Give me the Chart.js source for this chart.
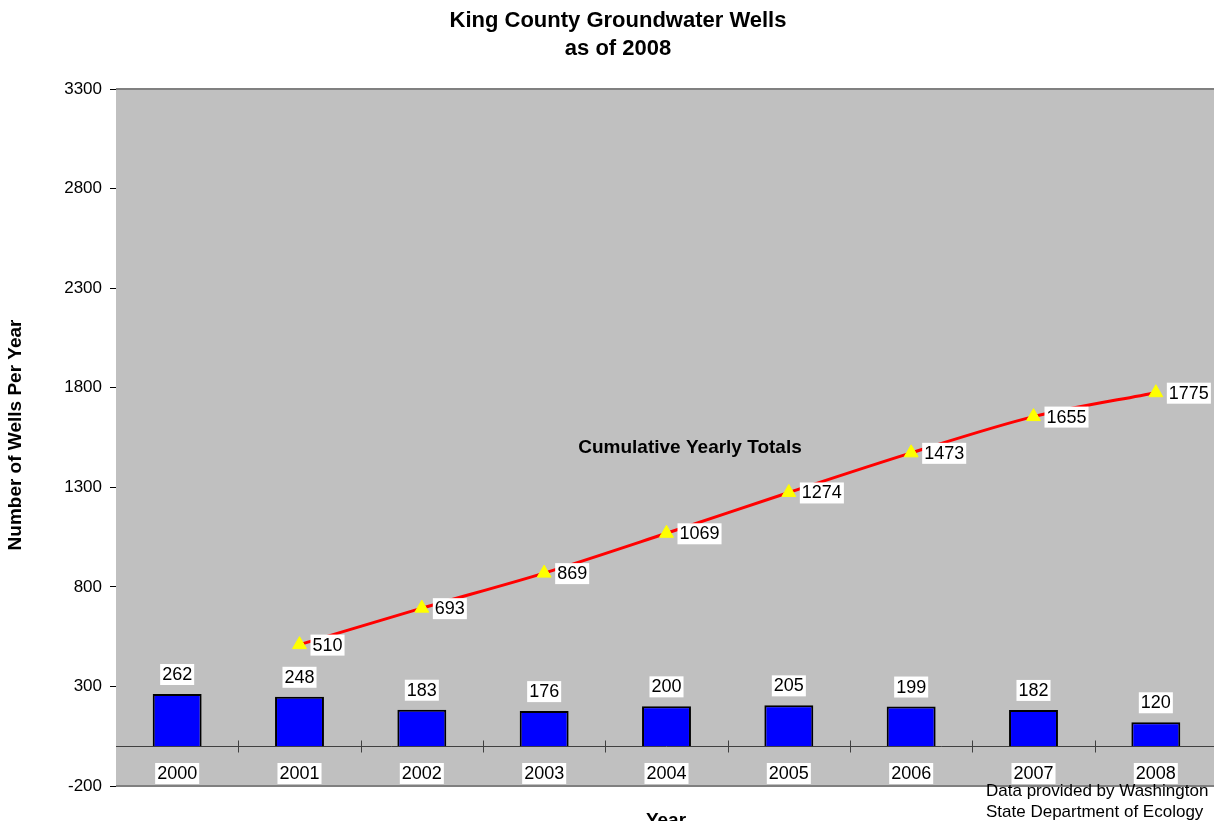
<!DOCTYPE html>
<html>
<head>
<meta charset="utf-8">
<script src="https://cdn.jsdelivr.net/npm/chart.js@4.4.1/dist/chart.umd.min.js"></script>
<style>
  html, body { margin: 0; padding: 0; background: #fff; overflow: hidden; }
  #wrap { position: relative; width: 1226px; height: 821px; }
</style>
</head>
<body>
<div id="wrap"><canvas id="wells" width="1226" height="821"></canvas></div>
<script>
// data
const years = ['2000', '2001', '2002', '2003', '2004', '2005', '2006', '2007', '2008'];
const wellsPerYear = [262, 248, 183, 176, 200, 205, 199, 182, 120];
const cumulative = [null, 510, 693, 869, 1069, 1274, 1473, 1655, 1775];
const yTicks = [-200, 300, 800, 1300, 1800, 2300, 2800, 3300];

const FONT = 'Arial, "Liberation Sans", sans-serif';

function labelBox(ctx, text, cx, cy, align) {
  ctx.font = '18px ' + FONT;
  const w = ctx.measureText(text).width;
  const left = align === 'left' ? cx : cx - w / 2;
  ctx.fillStyle = '#fff';
  ctx.fillRect(left - 2, cy - 10, w + 4, 21);
  ctx.fillStyle = '#000';
  ctx.textAlign = 'left';
  ctx.textBaseline = 'middle';
  ctx.fillText(text, left, cy + 1);
}

// gray plot background, border, zero line with category ticks
const plotFrame = {
  id: 'plotFrame',
  beforeDatasetsDraw(chart) {
    const { ctx, chartArea: a, scales: { x, y } } = chart;
    ctx.save();
    ctx.fillStyle = '#c0c0c0';
    ctx.fillRect(a.left, a.top, a.right - a.left, a.bottom - a.top);
    ctx.strokeStyle = '#808080';
    ctx.lineWidth = 2;
    ctx.beginPath();
    ctx.moveTo(a.left, a.top); ctx.lineTo(a.right, a.top);
    ctx.moveTo(a.left, a.bottom); ctx.lineTo(a.right, a.bottom);
    ctx.stroke();

    const zy = Math.round(y.getPixelForValue(0)) + 0.5;
    ctx.strokeStyle = '#404040';
    ctx.lineWidth = 1;
    ctx.beginPath();
    ctx.moveTo(a.left, zy); ctx.lineTo(a.right, zy);
    for (let i = 0; i < years.length - 1; i++) {
      const tx = Math.round((x.getPixelForValue(i) + x.getPixelForValue(i + 1)) / 2) + 0.5;
      ctx.moveTo(tx, zy - 6); ctx.lineTo(tx, zy + 6);
    }
    ctx.stroke();
    ctx.restore();
  },
  afterDatasetsDraw(chart) {
    const { ctx, chartArea: a, scales: { x, y } } = chart;
    ctx.save();
    // category labels inside the plot, under the zero line
    years.forEach((yr, i) => labelBox(ctx, yr, x.getPixelForValue(i), a.bottom - 13, 'center'));
    // bar value labels
    chart.getDatasetMeta(1).data.forEach((bar, i) => {
      labelBox(ctx, String(wellsPerYear[i]), bar.x, bar.y - 20, 'center');
    });
    // cumulative labels to the right of the markers
    chart.getDatasetMeta(0).data.forEach((pt, i) => {
      if (cumulative[i] == null) return;
      labelBox(ctx, String(cumulative[i]), pt.x + 13, pt.y, 'left');
    });

    ctx.fillStyle = '#000';
    ctx.textAlign = 'center';
    ctx.textBaseline = 'middle';
    ctx.font = 'bold 19px ' + FONT;
    ctx.fillText('Cumulative Yearly Totals', 690, 448);

    ctx.font = 'bold 22px ' + FONT;
    ctx.fillText('King County Groundwater Wells', 618, 21);
    ctx.fillText('as of 2008', 618, 49);

    ctx.font = 'bold 19px ' + FONT;
    ctx.fillText('Year', 666, 821);
    ctx.save();
    ctx.translate(16, 435);
    ctx.rotate(-Math.PI / 2);
    ctx.fillText('Number of Wells Per Year', 0, 0);
    ctx.restore();

    ctx.font = '17px ' + FONT;
    ctx.textAlign = 'left';
    ctx.fillText('Data provided by Washington', 986, 791);
    ctx.fillText('State Department of Ecology', 986, 812);
    ctx.restore();
  }
};

new Chart(document.getElementById('wells'), {
  data: {
    labels: years,
    datasets: [
      {
        type: 'line',
        label: 'Cumulative Yearly Totals',
        data: cumulative,
        order: 0,
        borderColor: '#ff0000',
        borderWidth: 3,
        tension: 0.3,
        pointStyle: 'triangle',
        pointRadius: 8,
        pointBackgroundColor: '#ffff00',
        pointBorderColor: '#ffff00',
        pointBorderWidth: 1
      },
      {
        type: 'bar',
        label: 'Wells Per Year',
        data: wellsPerYear,
        order: 1,
        backgroundColor: '#0000ff',
        borderColor: '#000',
        borderWidth: 2,
        categoryPercentage: 1,
        barPercentage: 0.4
      }
    ]
  },
  options: {
    responsive: false,
    animation: false,
    devicePixelRatio: 1,
    layout: { padding: { top: 89, bottom: 35, left: 0, right: 0 } },
    plugins: { legend: { display: false }, tooltip: { enabled: false } },
    scales: {
      x: { display: false },
      y: {
        min: -200,
        max: 3300,
        afterBuildTicks: (s) => { s.ticks = yTicks.map(v => ({ value: v })); },
        afterFit: (s) => { s.width = 116; },
        grid: { drawOnChartArea: false, tickLength: 6, color: '#000' },
        border: { color: '#000', width: 1 },
        ticks: {
          color: '#000',
          font: { family: FONT, size: 17 },
          padding: 8,
          callback: (v) => String(v)
        }
      }
    }
  },
  plugins: [plotFrame]
});
</script>
</body>
</html>
